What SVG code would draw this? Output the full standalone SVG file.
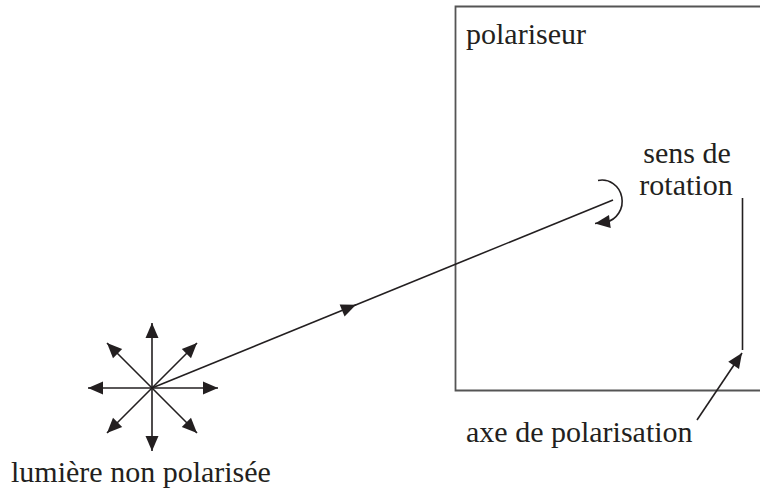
<svg xmlns="http://www.w3.org/2000/svg" width="760" height="490" viewBox="0 0 760 490">
<style>
text{font-family:"Liberation Serif","Times New Roman",Tinos,"Noto Serif","DejaVu Serif",serif;font-size:30px;fill:#231f20}
.ln{stroke:#231f20;stroke-width:1.6;fill:none}
.ar{stroke:#231f20;stroke-width:1.6;fill:none;marker-end:url(#ah)}
</style>
<defs>
<marker id="ah" markerUnits="userSpaceOnUse" markerWidth="20" markerHeight="16" viewBox="0 0 20 16" refX="16" refY="8" orient="auto">
<path d="M1,1.5 L16,8 L1,14.5 Z" fill="#231f20"/>
</marker>
</defs>
<rect width="760" height="490" fill="#fff"/>
<g id="polariseur">
<path d="M760,6.5 H455.5 V390.5 H760" fill="none" stroke="#555" stroke-width="1.8"/>
<text x="466" y="44">polariseur</text>
</g>
<g id="source">
<line class="ar" x1="152" y1="388" x2="152" y2="323"/>
<line class="ar" x1="152" y1="388" x2="152" y2="451"/>
<line class="ar" x1="152" y1="388" x2="88" y2="388"/>
<line class="ar" x1="152" y1="388" x2="218" y2="388"/>
<line class="ar" x1="152" y1="388" x2="107" y2="343"/>
<line class="ar" x1="152" y1="388" x2="197" y2="343"/>
<line class="ar" x1="152" y1="388" x2="107" y2="433"/>
<line class="ar" x1="152" y1="388" x2="197" y2="433"/>
<text x="11" y="482">lumière non polarisée</text>
</g>
<g id="rotation">
<path class="ar" d="M598,180.5 A20,21 0 0 1 606,222 L595,223.5"/>
<text x="687" y="163" text-anchor="middle">sens de</text>
<text x="686" y="195" text-anchor="middle">rotation</text>
</g>
<g id="axe">
<line class="ln" x1="742.5" y1="198" x2="742.5" y2="350"/>
<text x="466" y="442">axe de polarisation</text>
</g>
<g id="connectors">
<path class="ln" d="M152,388 L356,304.8" marker-end="url(#ah)"/>
<path class="ln" d="M355,305.2 L613,200"/>
<path class="ar" d="M697,420 L742,353"/>
</g>
</svg>
